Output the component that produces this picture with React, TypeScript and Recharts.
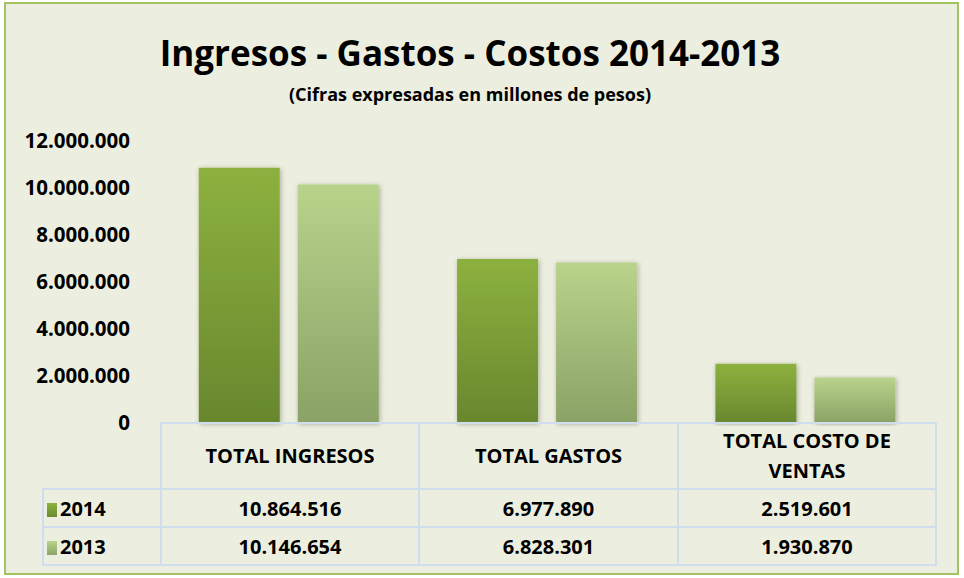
import { BarChart, Bar, XAxis, YAxis } from "recharts";

const categories = ["TOTAL INGRESOS", "TOTAL GASTOS", "TOTAL COSTO DE VENTAS"];
const years = ["2014", "2013"];
const values2014 = [10864516, 6977890, 2519601];
const values2013 = [10146654, 6828301, 1930870];
const yTicks = [0, 2000000, 4000000, 6000000, 8000000, 10000000, 12000000];

const FONT = '"Open Sans", sans-serif';
const GRID = "#CFDDEE";

const fmt = (v: number) => String(v).replace(/\B(?=(\d{3})+(?!\d))/g, ".");

const chartData = categories.map((name, i) => ({
  name,
  y2014: values2014[i],
  y2013: values2013[i],
}));

const swatch = (year: string) =>
  year === "2014"
    ? "linear-gradient(#8DB13F, #6A8A2E)"
    : "linear-gradient(#B9D38C, #8CA466)";

export default function App() {
  const rows = [values2014, values2013];
  return (
    <div
      style={{
        position: "absolute",
        left: 0,
        top: 0,
        width: 964,
        height: 578,
        background: "#fff",
        fontFamily: FONT,
      }}
    >
      {/* outer frame */}
      <div
        style={{
          position: "absolute",
          left: 4,
          top: 2,
          width: 951,
          height: 569,
          background: "#ECEFDF",
          border: "2px solid #A3C363",
        }}
      />
      <div
        style={{
          position: "absolute",
          left: 0,
          top: 29,
          width: 940,
          textAlign: "center",
          fontSize: 35,
          fontWeight: "bold",
          color: "#000",
        }}
      >
        Ingresos - Gastos - Costos 2014-2013
      </div>
      <div
        style={{
          position: "absolute",
          left: 0,
          top: 82,
          width: 940,
          textAlign: "center",
          fontSize: 18,
          fontWeight: "bold",
          color: "#000",
        }}
      >
        (Cifras expresadas en millones de pesos)
      </div>

      <div style={{ position: "absolute", left: 0, top: 0 }}>
        <BarChart
          width={964}
          height={578}
          data={chartData}
          margin={{ top: 141, right: 29, bottom: 155, left: 10 }}
          barCategoryGap="15%"
          barGap={18}
        >
          <defs>
            <linearGradient id="g2014" x1="0" y1="0" x2="0" y2="1">
              <stop offset="0%" stopColor="#8DB13F" />
              <stop offset="100%" stopColor="#68872E" />
            </linearGradient>
            <linearGradient id="g2013" x1="0" y1="0" x2="0" y2="1">
              <stop offset="0%" stopColor="#B9D38C" />
              <stop offset="100%" stopColor="#8AA265" />
            </linearGradient>
            <filter id="shadow" x="-20%" y="-5%" width="140%" height="110%">
              <feDropShadow dx="1" dy="1" stdDeviation="2.5" floodColor="#000" floodOpacity="0.3" />
            </filter>
          </defs>
          <XAxis dataKey="name" hide />
          <YAxis
            width={150}
            domain={[0, 12000000]}
            ticks={yTicks}
            tickFormatter={fmt}
            axisLine={false}
            tickLine={false}
            tickSize={0}
            tickMargin={30}
            tick={{ fill: "#000", fontSize: 20.5, fontWeight: "bold", fontFamily: FONT }}
          />
          <Bar dataKey="y2014" name="2014" fill="url(#g2014)" filter="url(#shadow)" isAnimationActive={false} />
          <Bar dataKey="y2013" name="2013" fill="url(#g2013)" filter="url(#shadow)" isAnimationActive={false} />
        </BarChart>
      </div>

      {/* data table under the plot */}
      <table
        style={{
          position: "absolute",
          left: 42,
          top: 422,
          borderCollapse: "collapse",
          fontFamily: FONT,
          fontWeight: "bold",
          fontSize: 20,
          color: "#000",
          tableLayout: "fixed",
        }}
      >
        <colgroup>
          <col style={{ width: 118 }} />
          <col style={{ width: 258 }} />
          <col style={{ width: 259 }} />
          <col style={{ width: 258 }} />
        </colgroup>
        <tbody>
          <tr style={{ height: 66 }}>
            <td style={{ border: "none", borderRight: `2px solid ${GRID}` }} />
            {categories.map((c) => (
              <td
                key={c}
                style={{
                  border: `2px solid ${GRID}`,
                  textAlign: "center",
                  padding: "0 36px",
                  lineHeight: "30px",
                }}
              >
                {c}
              </td>
            ))}
          </tr>
          {rows.map((vals, r) => (
            <tr key={years[r]} style={{ height: 38 }}>
              <td style={{ border: `2px solid ${GRID}`, padding: "0 0 0 3px", whiteSpace: "nowrap" }}>
                <span
                  style={{
                    display: "inline-block",
                    width: 10,
                    height: 14,
                    background: swatch(years[r]),
                    marginRight: 3,
                    verticalAlign: "-1px",
                  }}
                />
                {years[r]}
              </td>
              {vals.map((v, i) => (
                <td key={i} style={{ border: `2px solid ${GRID}`, textAlign: "center" }}>
                  {fmt(v)}
                </td>
              ))}
            </tr>
          ))}
        </tbody>
      </table>
    </div>
  );
}
